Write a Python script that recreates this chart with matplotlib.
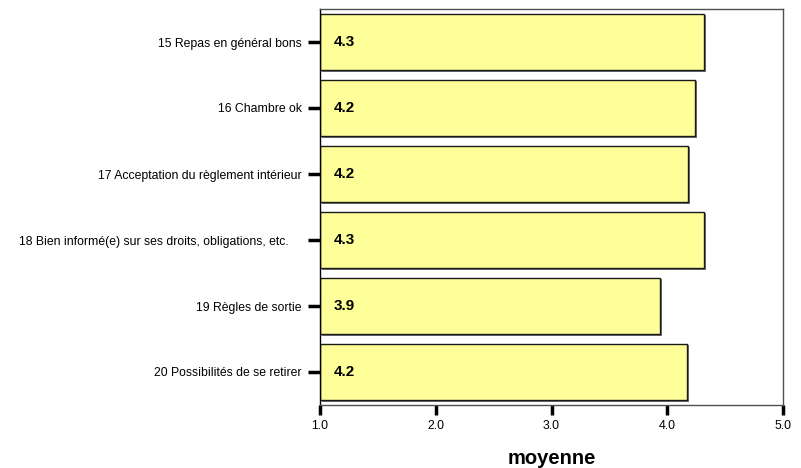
import matplotlib
matplotlib.use("Agg")
import matplotlib.pyplot as plt
import matplotlib.patheffects as pe

plt.rcParams['font.family'] = ['Liberation Sans', 'DejaVu Sans']

# data
items = ["15 Repas en général bons",
         "16 Chambre ok",
         "17 Acceptation du règlement intérieur",
         "18 Bien informé(e) sur ses droits, obligations, etc.    ",
         "19 Règles de sortie",
         "20 Possibilités de se retirer"]
moyennes = [4.32, 4.24, 4.18, 4.32, 3.94, 4.17]
xticks = [1.0, 2.0, 3.0, 4.0, 5.0]


def main():
    fig = plt.figure(figsize=(8.01, 4.68), dpi=100)
    ax = fig.add_axes([320 / 801, 1 - 405 / 468, 463 / 801, 396 / 468])

    pos = list(range(len(items)))[::-1]
    bars = ax.barh(pos, [m - 1.0 for m in moyennes], left=1.0, height=0.86,
                   color="#ffff99", edgecolor="#1a1a1a", linewidth=1.0)
    for b in bars:
        b.set_path_effects([pe.SimplePatchShadow(offset=(1.2, -1.2),
                                                 shadow_rgbFace="#707070",
                                                 alpha=1.0),
                            pe.Normal()])

    for p, m in zip(pos, moyennes):
        ax.text(1.12, p, "%.1f" % m, ha="left", va="center",
                fontsize=11, fontweight="bold", color="black")

    ax.set_xlim(1.0, 5.0)
    ax.set_ylim(-0.5, len(items) - 0.5)
    ax.set_xticks(xticks)
    ax.set_xticklabels(["%.1f" % t for t in xticks], fontsize=8.8)
    ax.set_yticks(pos)
    ax.set_yticklabels(items, fontsize=8.8)

    ax.tick_params(axis="y", length=9, width=2.5, pad=4, colors="black")
    ax.tick_params(axis="x", length=7, width=2.5, pad=4, colors="black")

    for s in ["top", "right", "bottom"]:
        ax.spines[s].set_color("#505050")
        ax.spines[s].set_linewidth(1.0)
    ax.spines["left"].set_color("black")
    ax.spines["left"].set_linewidth(1.0)

    ax.set_xlabel("moyenne", fontsize=14.5, fontweight="bold", labelpad=12)

    fig.savefig("out.png", dpi=100)


if __name__ == '__main__':
    main()
